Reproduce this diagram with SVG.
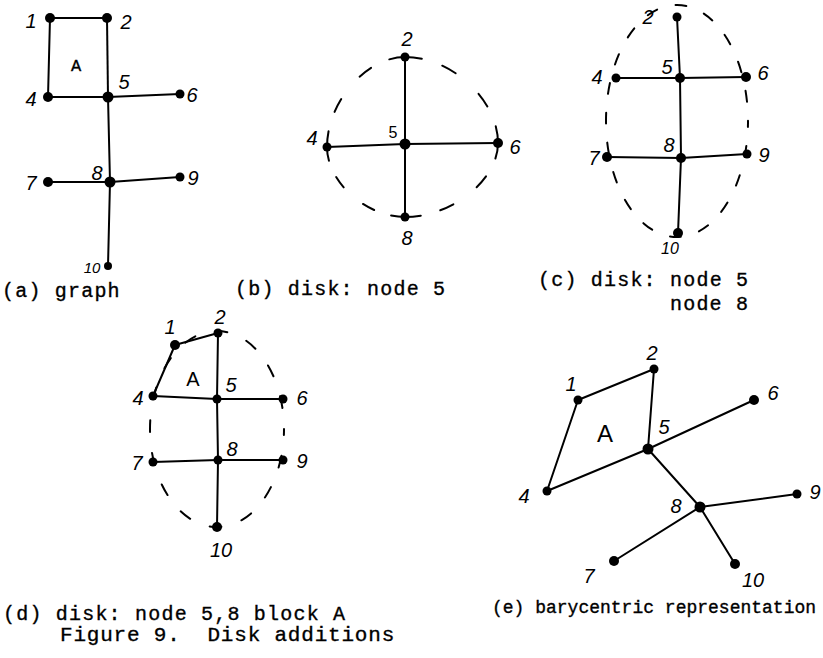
<svg xmlns="http://www.w3.org/2000/svg" width="823" height="658" viewBox="0 0 823 658">
<style>
.e{stroke:#000;stroke-width:2;fill:none;stroke-linecap:round}
.d{stroke:#000;stroke-width:2;fill:none;stroke-linecap:round}
.q{stroke:#000;stroke-width:2;fill:none;stroke-linecap:round;stroke-dasharray:11 14 10 20 10 14 11 100}
.n{fill:#000}
.l{font-family:"Liberation Sans","DejaVu Sans",sans-serif;font-style:italic;font-size:20px;fill:#000;text-anchor:middle}
.t{font-family:"Liberation Mono","DejaVu Sans Mono",monospace;font-size:20px;letter-spacing:1.2px;fill:#000;stroke:#000;stroke-width:0.35}
</style>
<rect width="823" height="658" fill="#fff"/>

<!-- (a) graph -->
<g id="panel-a">
<g id="a-connectors">
<line class="e" x1="50" y1="18" x2="107" y2="18"/>
<line class="e" x1="50" y1="18" x2="48" y2="97"/>
<line class="e" x1="107" y1="18" x2="108" y2="97"/>
<line class="e" x1="48" y1="97" x2="108" y2="97"/>
<line class="e" x1="108" y1="97" x2="180" y2="94"/>
<line class="e" x1="108" y1="97" x2="110" y2="182"/>
<line class="e" x1="48" y1="182" x2="110" y2="182"/>
<line class="e" x1="110" y1="182" x2="180" y2="177"/>
<line class="e" x1="110" y1="182" x2="108" y2="266"/>
</g>
<text class="t" x="71" y="71" style="font-size:17px">A</text>
<g id="a-n1"><circle class="n" cx="50" cy="18" r="5"/><text class="l" x="31" y="28">1</text></g>
<g id="a-n2"><circle class="n" cx="107" cy="18" r="5"/><text class="l" x="126" y="29">2</text></g>
<g id="a-n4"><circle class="n" cx="48" cy="97" r="5"/><text class="l" x="31" y="106">4</text></g>
<g id="a-n5"><circle class="n" cx="108" cy="97" r="5.5"/><text class="l" x="124" y="89">5</text></g>
<g id="a-n6"><circle class="n" cx="180" cy="94" r="4.5"/><text class="l" x="192" y="102">6</text></g>
<g id="a-n7"><circle class="n" cx="48" cy="182" r="5"/><text class="l" x="31" y="190">7</text></g>
<g id="a-n8"><circle class="n" cx="110" cy="182" r="5.5"/><text class="l" x="97" y="180">8</text></g>
<g id="a-n9"><circle class="n" cx="180" cy="177" r="4.5"/><text class="l" x="193" y="185">9</text></g>
<g id="a-n10"><circle class="n" cx="108" cy="266" r="4"/><text class="l" x="92" y="273" style="font-size:15px">10</text></g>
<text class="t" x="2" y="297">(a) graph</text>
</g>

<!-- (b) disk: node 5 -->
<g id="panel-b">
<g id="b-connectors">
<path class="q" pathLength="90" d="M405,57 C452,57 498,100 498,143"/>
<path class="q" pathLength="90" d="M498,143 C498,180 452,217 405,217"/>
<path class="q" pathLength="90" d="M405,217 C366,217 327,182 327,147"/>
<path class="q" pathLength="90" d="M327,147 C327,102 366,57 405,57"/>
<line class="e" x1="405" y1="57" x2="405" y2="144"/>
<line class="e" x1="327" y1="147" x2="405" y2="144"/>
<line class="e" x1="405" y1="144" x2="498" y2="143"/>
<line class="e" x1="405" y1="144" x2="405" y2="217"/>
</g>
<g id="b-n2"><circle class="n" cx="405" cy="57" r="4.5"/><text class="l" x="407" y="46">2</text></g>
<g id="b-n4"><circle class="n" cx="327" cy="147" r="4.5"/><text class="l" x="312" y="145">4</text></g>
<g id="b-n5"><circle class="n" cx="405" cy="144" r="5.5"/><text class="l" x="393" y="138" style="font-style:normal;font-size:16px">5</text></g>
<g id="b-n6"><circle class="n" cx="498" cy="143" r="5"/><text class="l" x="515" y="154">6</text></g>
<g id="b-n8"><circle class="n" cx="405" cy="217" r="4.5"/><text class="l" x="407" y="245">8</text></g>
<text class="t" x="235" y="295">(b) disk: node 5</text>
</g>

<!-- (c) disk: node 5 node 8 -->
<g id="panel-c">
<g id="c-connectors">
<ellipse class="d" cx="677" cy="121" rx="71" ry="116" stroke-dasharray="11 19" stroke-dashoffset="5"/>
<line class="e" x1="677" y1="17" x2="680" y2="78"/>
<line class="e" x1="616" y1="78" x2="680" y2="78"/>
<line class="e" x1="680" y1="78" x2="746" y2="77"/>
<line class="e" x1="680" y1="78" x2="681" y2="158"/>
<line class="e" x1="607" y1="157" x2="681" y2="158"/>
<line class="e" x1="681" y1="158" x2="747" y2="154"/>
<line class="e" x1="681" y1="158" x2="678" y2="233"/>
</g>
<g id="c-n2"><circle class="n" cx="677" cy="17" r="4.5"/><text class="l" x="648" y="24">2</text></g>
<g id="c-n4"><circle class="n" cx="616" cy="78" r="4.5"/><text class="l" x="597" y="84">4</text></g>
<g id="c-n5"><circle class="n" cx="680" cy="78" r="5"/><text class="l" x="667" y="74">5</text></g>
<g id="c-n6"><circle class="n" cx="746" cy="77" r="5"/><text class="l" x="763" y="80">6</text></g>
<g id="c-n7"><circle class="n" cx="607" cy="157" r="5"/><text class="l" x="594" y="165">7</text></g>
<g id="c-n8"><circle class="n" cx="681" cy="158" r="5"/><text class="l" x="669" y="152">8</text></g>
<g id="c-n9"><circle class="n" cx="747" cy="154" r="4.5"/><text class="l" x="764" y="162">9</text></g>
<g id="c-n10"><circle class="n" cx="678" cy="233" r="5"/><text class="l" x="670" y="254" style="font-size:16px">10</text></g>
<text class="t" x="538" y="286">(c) disk: node 5</text>
<text class="t" x="670" y="310">node 8</text>
</g>

<!-- (d) disk: node 5,8 block A -->
<g id="panel-d">
<g id="d-connectors">
<ellipse class="d" cx="217" cy="429" rx="67" ry="98" stroke-dasharray="12 21" stroke-dashoffset="6"/>
<line class="e" x1="175" y1="345" x2="218" y2="333"/>
<line class="e" x1="175" y1="345" x2="153" y2="396"/>
<line class="e" x1="218" y1="333" x2="217" y2="399"/>
<line class="e" x1="153" y1="396" x2="217" y2="399"/>
<line class="e" x1="217" y1="399" x2="283" y2="399"/>
<line class="e" x1="217" y1="399" x2="218" y2="460"/>
<line class="e" x1="153" y1="462" x2="218" y2="460"/>
<line class="e" x1="218" y1="460" x2="283" y2="460"/>
<line class="e" x1="218" y1="460" x2="217" y2="527"/>
</g>
<text class="l" x="193" y="386" style="font-style:normal;font-size:20px">A</text>
<g id="d-n1"><circle class="n" cx="175" cy="345" r="5"/><text class="l" x="170" y="334">1</text></g>
<g id="d-n2"><circle class="n" cx="218" cy="333" r="4.5"/><text class="l" x="220" y="324">2</text></g>
<g id="d-n4"><circle class="n" cx="153" cy="396" r="4.5"/><text class="l" x="138" y="405">4</text></g>
<g id="d-n5"><circle class="n" cx="217" cy="399" r="4.5"/><text class="l" x="231" y="392">5</text></g>
<g id="d-n6"><circle class="n" cx="283" cy="399" r="4.5"/><text class="l" x="302" y="405">6</text></g>
<g id="d-n7"><circle class="n" cx="153" cy="462" r="4.5"/><text class="l" x="137" y="470">7</text></g>
<g id="d-n8"><circle class="n" cx="218" cy="460" r="4.5"/><text class="l" x="232" y="456">8</text></g>
<g id="d-n9"><circle class="n" cx="283" cy="460" r="4.5"/><text class="l" x="302" y="468">9</text></g>
<g id="d-n10"><circle class="n" cx="217" cy="527" r="5"/><text class="l" x="221" y="557">10</text></g>
<text class="t" x="3" y="620">(d) disk: node 5,8 block A</text>
</g>

<!-- (e) barycentric representation -->
<g id="panel-e">
<g id="e-connectors">
<line class="e" x1="578" y1="400" x2="654" y2="369"/>
<line class="e" x1="578" y1="400" x2="547" y2="491"/>
<line class="e" x1="654" y1="369" x2="648" y2="449"/>
<line class="e" x1="547" y1="491" x2="648" y2="449"/>
<line class="e" x1="648" y1="449" x2="754" y2="400"/>
<line class="e" x1="648" y1="449" x2="700" y2="507"/>
<line class="e" x1="700" y1="507" x2="797" y2="494"/>
<line class="e" x1="700" y1="507" x2="614" y2="561"/>
<line class="e" x1="700" y1="507" x2="735" y2="564"/>
</g>
<text class="l" x="605" y="442" style="font-style:normal;font-size:24px">A</text>
<g id="e-n1"><circle class="n" cx="578" cy="400" r="4.5"/><text class="l" x="571" y="391">1</text></g>
<g id="e-n2"><circle class="n" cx="654" cy="369" r="4.5"/><text class="l" x="652" y="360">2</text></g>
<g id="e-n4"><circle class="n" cx="547" cy="491" r="4.5"/><text class="l" x="524" y="503">4</text></g>
<g id="e-n5"><circle class="n" cx="648" cy="449" r="5.5"/><text class="l" x="664" y="434">5</text></g>
<g id="e-n6"><circle class="n" cx="754" cy="400" r="5"/><text class="l" x="773" y="400">6</text></g>
<g id="e-n7"><circle class="n" cx="614" cy="561" r="5"/><text class="l" x="589" y="583">7</text></g>
<g id="e-n8"><circle class="n" cx="700" cy="507" r="5.5"/><text class="l" x="676" y="513">8</text></g>
<g id="e-n9"><circle class="n" cx="797" cy="494" r="4.5"/><text class="l" x="815" y="499">9</text></g>
<g id="e-n10"><circle class="n" cx="735" cy="564" r="5"/><text class="l" x="753" y="587">10</text></g>
<text class="t" x="492" y="613" style="letter-spacing:0;font-size:18px">(e) barycentric representation</text>
</g>

<text class="t" x="60" y="641" style="font-size:21px;letter-spacing:0.8px">Figure 9.&#160; Disk additions</text>
</svg>
